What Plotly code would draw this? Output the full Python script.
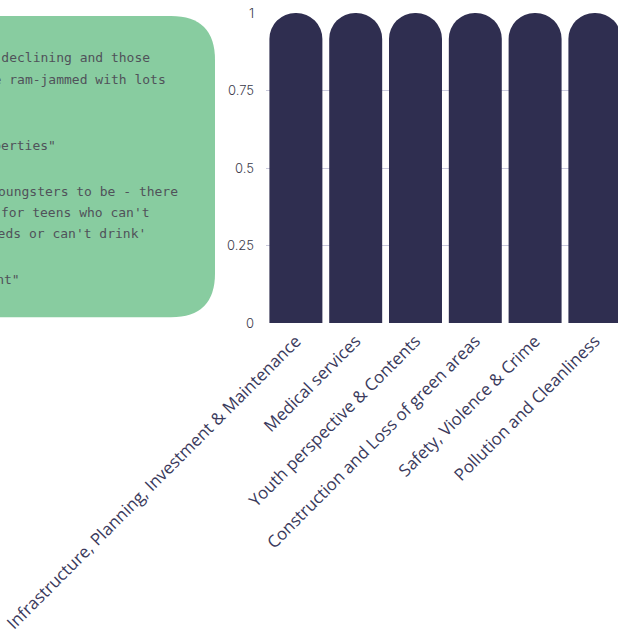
import plotly.graph_objects as go

# ---- data ----
categories = [
    "Infrastructure, Planning, Investment & Maintenance",
    "Medical services",
    "Youth perspective & Contents",
    "Construction and Loss of green areas",
    "Safety, Violence & Crime",
    "Pollution and Cleanliness",
]
values = [1, 1, 1, 1, 1, 1]
y_tick_vals = [0, 0.25, 0.5, 0.75, 1]
y_tick_text = ["0", "0.25", "0.5", "0.75", "1"]

quote_lines = [
    "Local businesses are declining and those",
    "that remain are ram-jammed with lots",
    "\"Too many empty and neglected properties\"",
    "\"There is nowhere for youngsters to be - there",
    "is nothing to do 'for teens who can't",
    "smoke weeds or can't drink'",
    "\"We need more investment\"",
]

# ---- layout geometry (pixels) ----
W, H = 618, 637
L, R, T, B = 266, 0, 13, 637 - 322.7
PW = W - L - R
PH = H - T - B

def px_x(px):
    return (px - L) / PW

def px_y(py):
    return (H - B - py) / PH

BAR = "#2f2e50"
GREEN = "#88cca0"

fig = go.Figure()
fig.add_trace(go.Bar(
    x=categories, y=values,
    marker=dict(color=BAR, cornerradius="50%", line=dict(width=0)),
    hoverinfo="x+y",
))

# rounded green quote box
x0, x1, y0, y1, r = -40, 215, 16, 317, 44
path = (
    f"M {px_x(x0)},{px_y(y0)} "
    f"L {px_x(x1 - r)},{px_y(y0)} "
    f"Q {px_x(x1)},{px_y(y0)} {px_x(x1)},{px_y(y0 + r)} "
    f"L {px_x(x1)},{px_y(y1 - r)} "
    f"Q {px_x(x1)},{px_y(y1)} {px_x(x1 - r)},{px_y(y1)} "
    f"L {px_x(x0)},{px_y(y1)} Z"
)
fig.add_shape(type="path", xref="paper", yref="paper", path=path,
              fillcolor=GREEN, line=dict(width=0), layer="below")

line_pos = [(152, 57), (168, 79), (58, 145), (180, 191), (152, 212), (148, 233), (22, 279)]
for txt, (ex, cy) in zip(quote_lines, line_pos):
    fig.add_annotation(
        x=px_x(ex), y=px_y(cy), xref="paper", yref="paper",
        text=txt, showarrow=False, xanchor="right", yanchor="middle",
        font=dict(family="DejaVu Sans Mono", size=13, color="#50525a"),
    )

fig.update_layout(
    width=W, height=H,
    margin=dict(l=L, r=R, t=T, b=B, autoexpand=False),
    paper_bgcolor="white", plot_bgcolor="white",
    bargap=0.114,
    showlegend=False,
    xaxis=dict(
        range=[-0.5, -0.5 + PW / 59.8],
        showgrid=False, zeroline=False, showline=False,
        tickangle=-45, ticks="", ticklabelstandoff=4,
        tickfont=dict(family="Open Sans", size=16.9, weight=400, color="#3a3a5c"),
        automargin=False,
    ),
    yaxis=dict(
        range=[0, 1],
        tickvals=y_tick_vals, ticktext=y_tick_text,
        showgrid=False, zeroline=False, showline=False,
        ticks="", ticklabelstandoff=11,
        tickfont=dict(family="Inter", size=13, weight=300, color="#3a3a4a"),
        minor=dict(tickvals=[0.25, 0.5, 0.75], showgrid=True,
                   gridcolor="#c9c9dc", gridwidth=1),
        automargin=False,
    ),
)

fig.write_html("out.html", config={"displayModeBar": False},
               post_script="document.body.style.margin='0';")
